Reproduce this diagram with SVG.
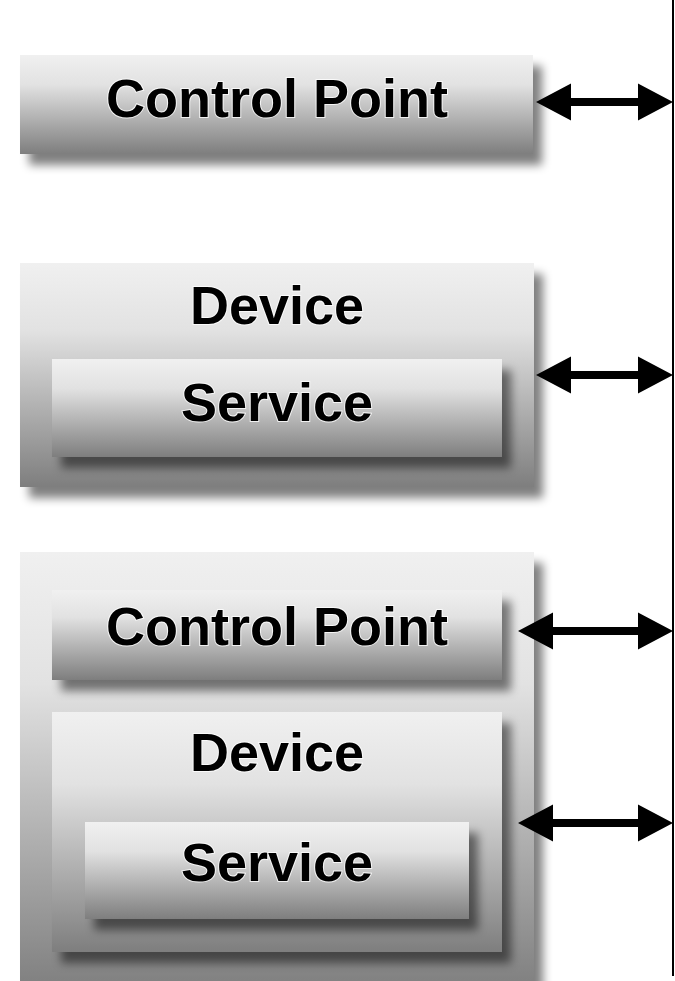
<svg xmlns="http://www.w3.org/2000/svg" width="675" height="981" viewBox="0 0 675 981">
<defs>
<linearGradient id="g" x1="0" y1="0" x2="0" y2="1">
<stop offset="0" stop-color="#f0f0f0"/>
<stop offset="0.3" stop-color="#e2e2e2"/>
<stop offset="1" stop-color="#7e7e7e"/>
</linearGradient>
<filter id="sh" x="-10%" y="-10%" width="130%" height="140%">
<feGaussianBlur in="SourceAlpha" stdDeviation="5"/>
<feOffset dx="9" dy="11" result="b"/>
<feComponentTransfer in="b" result="s"><feFuncA type="linear" slope="0.5"/></feComponentTransfer>
<feMerge><feMergeNode in="s"/><feMergeNode in="SourceGraphic"/></feMerge>
</filter>
<path id="arr" d="M0,0 L35,-18.5 L35,-4 L102,-4 L102,-18.5 L137,0 L102,18.5 L102,4 L35,4 L35,18.5 Z"/>
<path id="arrL" d="M0,0 L35,-18.5 L35,-4 L120,-4 L120,-18.5 L155,0 L120,18.5 L120,4 L35,4 L35,18.5 Z"/>
</defs>
<style>
.box{fill:url(#g);filter:url(#sh)}
.lbl{font-family:"Liberation Sans",Arial,sans-serif;font-weight:bold;font-size:54px;fill:#000;text-anchor:middle;stroke:#ffffff;stroke-width:2;paint-order:stroke;stroke-opacity:0.8}
.conn{fill:#000}
</style>
<rect width="675" height="981" fill="#fff"/>
<g id="node-cp1">
<rect class="box" x="20" y="55" width="513" height="99"/>
<text class="lbl" x="277" y="117">Control Point</text>
</g>
<g id="node-device1">
<rect class="box" x="20" y="263" width="514" height="224"/>
<text class="lbl" x="277" y="324">Device</text>
<g id="node-service1">
<rect class="box" x="52" y="359" width="450" height="98"/>
<text class="lbl" x="277" y="421">Service</text>
</g>
</g>
<g id="node-combo">
<rect class="box" x="20" y="552" width="514" height="440"/>
<g id="node-cp2">
<rect class="box" x="52" y="590" width="450" height="90"/>
<text class="lbl" x="277" y="645">Control Point</text>
</g>
<g id="node-device2">
<rect class="box" x="52" y="712" width="450" height="240"/>
<text class="lbl" x="277" y="771">Device</text>
<g id="node-service2">
<rect class="box" x="85" y="822" width="384" height="97"/>
<text class="lbl" x="277" y="881">Service</text>
</g>
</g>
</g>
<g id="connectors">
<line x1="673" y1="0" x2="673" y2="976" stroke="#000" stroke-width="2"/>
<use href="#arr" class="conn" transform="translate(536,102)"/>
<use href="#arr" class="conn" transform="translate(536,375)"/>
<use href="#arrL" class="conn" transform="translate(518,631)"/>
<use href="#arrL" class="conn" transform="translate(518,823)"/>
</g>
</svg>
